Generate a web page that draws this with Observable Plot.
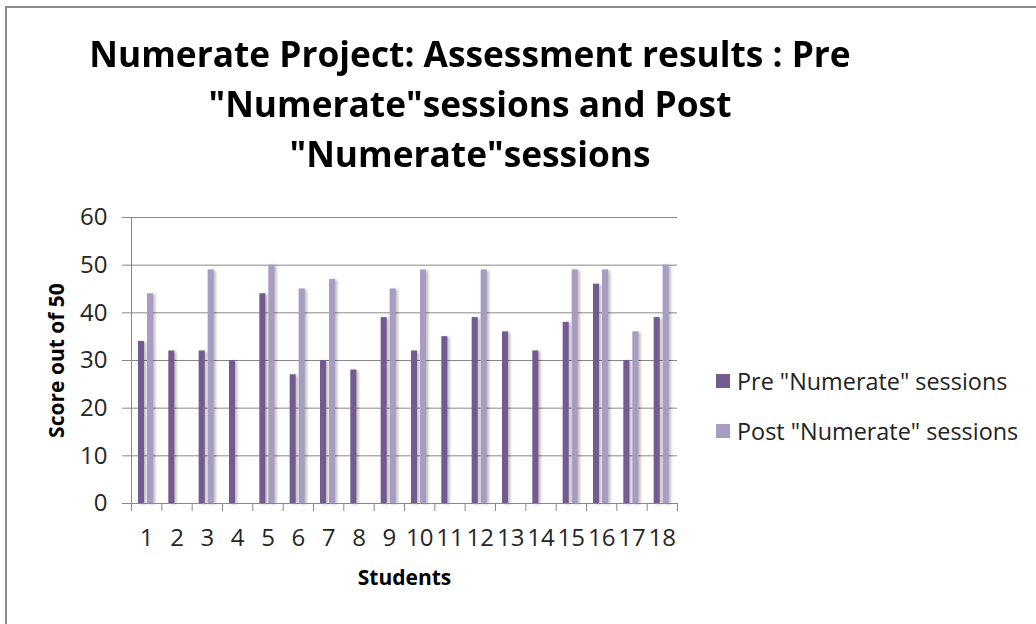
<!DOCTYPE html>
<html>
<head>
<meta charset="utf-8">
<script src="https://cdn.jsdelivr.net/npm/d3@7"></script>
<script src="https://cdn.jsdelivr.net/npm/@observablehq/plot@0.6"></script>
<style>
  html, body { margin: 0; padding: 0; background: #fff; }
  #wrap { position: relative; width: 1036px; height: 624px; overflow: hidden; font-family: "Open Sans", sans-serif; }
  #border { position: absolute; left: 5px; top: 6px; width: 1100px; height: 700px; border: 2px solid #8c8c8c; box-sizing: border-box; }
  #title { position: absolute; left: 0; width: 940px; top: 29px; text-align: center; font-weight: bold; font-size: 36px; line-height: 50px; color: #000; }
  #title div { transform: scaleX(0.98); transform-origin: center; white-space: nowrap; }
  #chart { position: absolute; left: 0; top: 0; }
  #legend { position: absolute; left: 716px; top: 364px; font-size: 23.4px; color: #222; }
  .row { display: flex; align-items: center; height: 34px; margin-bottom: 16px; white-space: nowrap; }
  .sw { width: 14px; height: 14px; margin-right: 7px; }
  #chart rect.bar { filter: drop-shadow(2px 1px 1.5px rgba(0,0,0,0.28)); }
</style>
</head>
<body>
<div id="wrap">
  <div id="border"></div>
  <div id="title"></div>
  <div id="chart"></div>
  <div id="legend"></div>
</div>
<script>
const titleLines = ['Numerate Project: Assessment results : Pre', '"Numerate"sessions and Post', '"Numerate"sessions'];
const students = ["1","2","3","4","5","6","7","8","9","10","11","12","13","14","15","16","17","18"];
const pre  = [34, 32, 32, 30, 44, 27, 30, 28, 39, 32, 35, 39, 36, 32, 38, 46, 30, 39];
const post = [44, 0, 49, 0, 50, 45, 47, 0, 45, 49, 0, 49, 0, 0, 49, 49, 36, 50];
const seriesNames = ['Pre "Numerate" sessions', 'Post "Numerate" sessions'];
const seriesColors = ["#735a8f", "#a99cc3"];
const yTicks = [0, 10, 20, 30, 40, 50, 60];
const yLabel = "Score out of 50";
const xLabel = "Students";

const titleEl = document.getElementById("title");
titleLines.forEach(t => { const d = document.createElement("div"); d.textContent = t; titleEl.appendChild(d); });

const preData = students.map((s, i) => ({student: s, value: pre[i]})).filter(d => d.value > 0);
const postData = students.map((s, i) => ({student: s, value: post[i]})).filter(d => d.value > 0);

const W = 1036, H = 624, mL = 131, mR = 359, mT = 217, mB = 121;
const bw = (W - mL - mR) / students.length;
const barW = 6;

const chart = Plot.plot({
  width: W, height: H,
  marginLeft: mL, marginRight: mR, marginTop: mT, marginBottom: mB,
  style: {fontFamily: "Open Sans, sans-serif", background: "transparent", overflow: "visible"},
  x: {type: "band", domain: students, padding: 0, round: false, axis: null},
  y: {domain: [0, 60], axis: null},
  marks: [
    Plot.gridY(yTicks.filter(t => t > 0), {stroke: "#888", strokeOpacity: 1}),
    Plot.axisY({ticks: yTicks, tickSize: 9, tickPadding: 15, stroke: "#888", fontSize: 24, fill: "#262626", label: null}),
    Plot.frame({anchor: "left", stroke: "#888"}),
    Plot.barY(preData, {x: "student", y: "value", fill: seriesColors[0], insetLeft: 7, insetRight: bw - 7 - barW}),
    Plot.barY(postData, {x: "student", y: "value", fill: seriesColors[1], insetLeft: 16, insetRight: bw - 16 - barW}),
    Plot.frame({anchor: "bottom", stroke: "#888"}),
    Plot.axisX({tickSize: 8, tickFormat: () => "", dx: -bw / 2, stroke: "#888", label: null}),
    Plot.axisX({ticks: [students[students.length - 1]], tickSize: 8, tickFormat: () => "", dx: bw / 2, stroke: "#888", label: null}),
    Plot.axisX({tickSize: 0, tickPadding: 25, fontSize: 24, fill: "#262626", label: null}),
    Plot.text([yLabel], {frameAnchor: "left", dx: -74, rotate: -90, textAnchor: "middle", lineAnchor: "middle", fontSize: 21, fontWeight: "bold", fill: "#000"}),
    Plot.text([xLabel], {frameAnchor: "bottom", dy: 75, textAnchor: "middle", lineAnchor: "middle", fontSize: 21, fontWeight: "bold", fill: "#000"})
  ]
});
document.getElementById("chart").appendChild(chart);
chart.querySelectorAll('g[aria-label="bar"] rect').forEach(r => r.classList.add("bar"));

const legendEl = document.getElementById("legend");
seriesNames.forEach((n, i) => {
  const row = document.createElement("div"); row.className = "row";
  const sw = document.createElement("div"); sw.className = "sw"; sw.style.background = seriesColors[i];
  const tx = document.createElement("span"); tx.textContent = n;
  row.appendChild(sw); row.appendChild(tx); legendEl.appendChild(row);
});
</script>
</body>
</html>
